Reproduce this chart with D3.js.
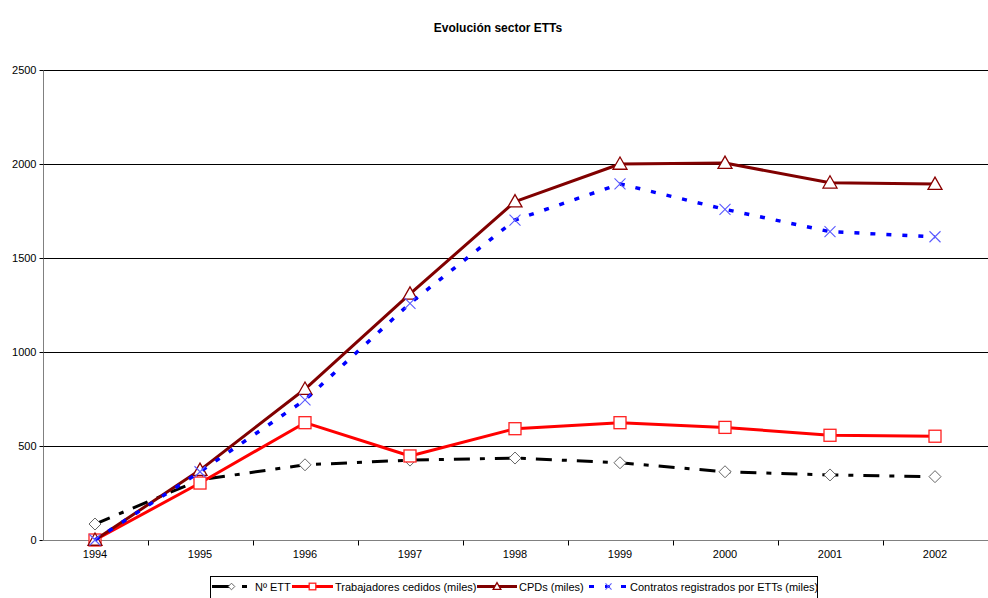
<!DOCTYPE html>
<html>
<head>
<meta charset="utf-8">
<script src="https://cdn.jsdelivr.net/npm/d3@7"></script>
<style>
  html, body { margin: 0; padding: 0; background: #fff; }
  svg { display: block; font-family: "Liberation Sans", Arial, sans-serif; }
</style>
</head>
<body>
<svg id="chart" width="988" height="598"></svg>
<script>
// Years on the category axis
const years = ["1994", "1995", "1996", "1997", "1998", "1999", "2000", "2001", "2002"];

// Series values
const numETT       = [85, 320, 400, 425, 436, 411, 363, 346, 337];
const trabajadores = [0, 303, 624, 447, 592, 624, 599, 557, 552];
const cpds         = [0, 372, 803, 1309, 1800, 2000, 2005, 1900, 1893];
const contratos    = [0, 363, 745, 1259, 1702, 1894, 1759, 1640, 1613];

// Value axis ticks
const yTicks = [0, 500, 1000, 1500, 2000, 2500];

const seriesNames = ["Nº ETT", "Trabajadores cedidos (miles)", "CPDs (miles)", "Contratos registrados por ETTs (miles)"];

const svg = d3.select("#chart");
const W = 988, H = 598;
const plot = { left: 42.5, right: 987.5, top: 70, bottom: 540 };

const x = d3.scaleBand().domain(years).range([plot.left, plot.right]).padding(0);
const y = d3.scaleLinear().domain([0, 2500]).range([plot.bottom, plot.top]);
const cx = d => x(d) + x.bandwidth() / 2;

// Title
svg.append("text")
  .attr("x", 498).attr("y", 32)
  .attr("text-anchor", "middle")
  .attr("font-size", 12).attr("font-weight", "bold")
  .text("Evolución sector ETTs");

// Horizontal gridlines
svg.append("g")
  .selectAll("line")
  .data(yTicks.filter(t => t > 0))
  .join("line")
  .attr("x1", plot.left).attr("x2", W)
  .attr("y1", d => Math.round(y(d)) + 0.5).attr("y2", d => Math.round(y(d)) + 0.5)
  .attr("stroke", "#000").attr("stroke-width", 1);

// Y axis
const yAxis = svg.append("g")
  .attr("transform", `translate(${Math.round(plot.left) + 0.5},0)`)
  .call(d3.axisLeft(y).tickValues(yTicks).tickSize(4).tickPadding(3).tickFormat(d3.format("d")));
yAxis.select(".domain").attr("stroke", "#808080").attr("d", `M0,${plot.top}V${plot.bottom}`);
yAxis.selectAll(".tick line").attr("stroke", "#000");
yAxis.selectAll(".tick text").attr("font-size", 11).attr("fill", "#000")
  .attr("font-family", "Liberation Sans, Arial, sans-serif");

// X axis
const xAxis = svg.append("g")
  .attr("transform", `translate(0,${plot.bottom + 0.5})`)
  .call(d3.axisBottom(x).tickSize(0).tickPadding(10));
xAxis.select(".domain").attr("stroke", "#808080").attr("d", `M${plot.left},0H${W}`);
xAxis.selectAll(".tick text").attr("font-size", 11).attr("fill", "#000")
  .attr("font-family", "Liberation Sans, Arial, sans-serif");
// Tick marks between categories
xAxis.append("g").selectAll("line")
  .data(years.slice(1))
  .join("line")
  .attr("x1", d => Math.round(x(d)) + 0.5).attr("x2", d => Math.round(x(d)) + 0.5)
  .attr("y1", 0).attr("y2", 5)
  .attr("stroke", "#000");

// Marker drawing helpers
function drawMarker(g, type, px, py, s) {
  const k = s || 1;
  if (type === "diamond") {
    const r = 6 * k;
    g.append("path")
      .attr("d", `M${px},${py - r}L${px + r},${py}L${px},${py + r}L${px - r},${py}Z`)
      .attr("fill", "#fff").attr("stroke", "#666").attr("stroke-width", 1);
  } else if (type === "square") {
    const r = 6 * k;
    g.append("rect")
      .attr("x", px - r).attr("y", py - r).attr("width", 2 * r).attr("height", 2 * r)
      .attr("fill", "#fff").attr("stroke", "#ff2020").attr("stroke-width", 1.3);
  } else if (type === "triangle") {
    const r = 7 * k;
    g.append("path")
      .attr("d", `M${px},${py - r}L${px + r},${py + r * 0.75}L${px - r},${py + r * 0.75}Z`)
      .attr("fill", "#fff").attr("stroke", "#8b0000").attr("stroke-width", 1.3);
  } else if (type === "x") {
    const r = 5.5 * k;
    g.append("path")
      .attr("d", `M${px - r},${py - r}L${px + r},${py + r}M${px + r},${py - r}L${px - r},${py + r}`)
      .attr("fill", "none").attr("stroke", "#5a5aff").attr("stroke-width", 1.1);
  }
}

const series = [
  { name: seriesNames[0], values: numETT,       color: "#000",    dash: "16,10,5,10", width: 3, marker: "diamond" },
  { name: seriesNames[1], values: trabajadores, color: "#ff0000", dash: null,         width: 3, marker: "square" },
  { name: seriesNames[2], values: cpds,         color: "#800000", dash: null,         width: 3, marker: "triangle" },
  { name: seriesNames[3], values: contratos,    color: "#0000ff", dash: "5,11",       width: 3.5, marker: "x" }
];

const line = d3.line().x(d => cx(d.year)).y(d => y(d.v));

series.forEach(s => {
  const pts = years.map((yr, i) => ({ year: yr, v: s.values[i] }));
  const g = svg.append("g");
  g.append("path")
    .datum(pts)
    .attr("d", line)
    .attr("fill", "none")
    .attr("stroke", s.color)
    .attr("stroke-width", s.width)
    .attr("stroke-linejoin", "round")
    .attr("stroke-dasharray", s.dash);
  pts.forEach(p => drawMarker(g, s.marker, cx(p.year), y(p.v)));
});

// Legend
const legend = svg.append("g");
legend.append("rect")
  .attr("x", 210.5).attr("y", 576.5).attr("width", 607).attr("height", 30)
  .attr("fill", "#fff").attr("stroke", "#000").attr("stroke-width", 1);

const legendItems = [
  { s: series[0], x0: 212, x1: 251, tx: 255, dash: "20,10,5,20" },
  { s: series[1], x0: 292, x1: 333, tx: 335, dash: null },
  { s: series[2], x0: 477, x1: 517, tx: 519, dash: null },
  { s: series[3], x0: 589, x1: 628, tx: 630, dash: "5,11" }
];
const ly = 586.5;
legendItems.forEach(it => {
  const g = legend.append("g");
  g.append("line")
    .attr("x1", it.x0).attr("x2", it.x1).attr("y1", ly).attr("y2", ly)
    .attr("stroke", it.s.color).attr("stroke-width", 3)
    .attr("stroke-dasharray", it.dash);
  drawMarker(g, it.s.marker, (it.x0 + it.x1) / 2, ly, 0.55);
  g.append("text")
    .attr("x", it.tx).attr("y", ly + 4)
    .attr("font-size", 11).attr("fill", "#000")
    .text(it.s.name);
});
</script>
</body>
</html>
